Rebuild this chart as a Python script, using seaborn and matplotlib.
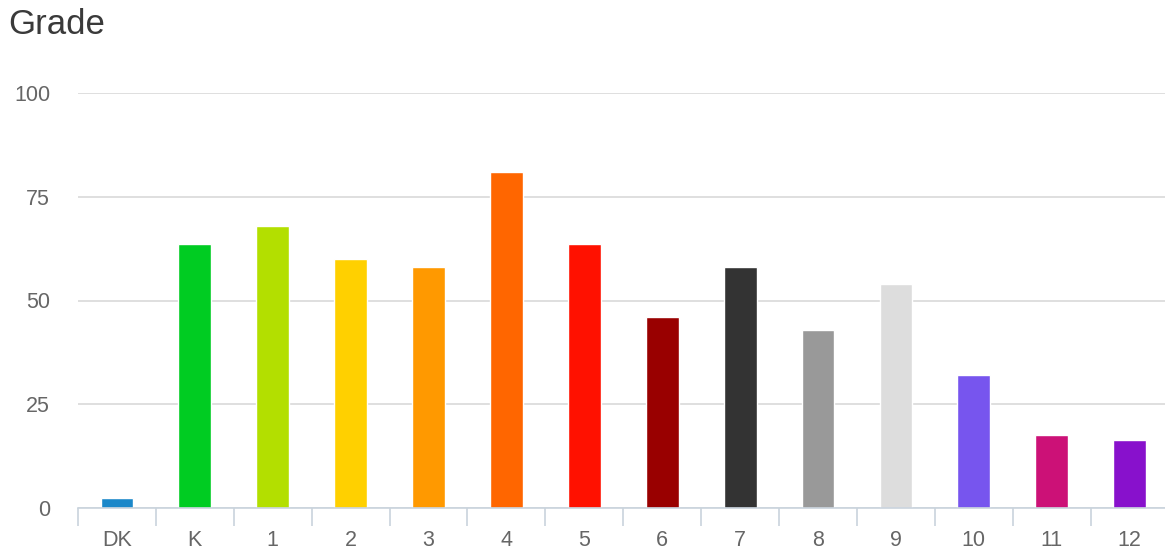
import matplotlib
matplotlib.use("Agg")
import matplotlib.pyplot as plt
import seaborn as sns
import pandas as pd
import numpy as np

categories = ["DK", "K", "1", "2", "3", "4", "5", "6", "7", "8", "9", "10", "11", "12"]
values = [2.5, 63.5, 68, 60, 58, 81, 63.5, 46, 58, 43, 54, 32, 17.5, 16.5]
colors = ["#1a87c9", "#00cc22", "#b3df00", "#ffd000", "#ff9900", "#ff6600", "#ff1100",
          "#990000", "#333333", "#999999", "#dddddd", "#7755ee", "#cc1177", "#8811cc"]
yticks = [0, 25, 50, 75, 100]

sns.set_theme(style="white")
plt.rcParams['font.family'] = ['Liberation Sans', 'DejaVu Sans']

W, H = 1165, 550
fig = plt.figure(figsize=(W / 100, H / 100), dpi=100)
left, right = 78, 1168.6
bottom, top = 508, 93
ax = fig.add_axes([left / W, (H - bottom) / H, (right - left) / W, (bottom - top) / H])

df = pd.DataFrame({"grade": categories, "value": values})
sns.barplot(data=df, x="grade", y="value", hue="grade", palette=colors,
            legend=False, width=0.42, ax=ax, saturation=1, order=categories)

ax.set_ylim(0, 100)
ax.set_xlim(-0.5, len(categories) - 0.5)
ax.set_yticks(yticks)
ax.set_yticklabels([str(t) for t in yticks])
ax.yaxis.grid(True, color="#d9d9d9", linewidth=1.2)
ax.set_axisbelow(True)
for s in ["top", "right", "left"]:
    ax.spines[s].set_visible(False)
ax.spines["bottom"].set_color("#c9d3dd")
ax.spines["bottom"].set_linewidth(1.2)
ax.spines["bottom"].set_zorder(5)

ax.set_xlabel("")
ax.set_ylabel("")
ax.tick_params(axis="y", length=0, pad=20, labelsize=15.5, labelcolor="#666666")
ax.tick_params(axis="x", which="major", length=0, pad=16, labelsize=15.5, labelcolor="#666666")
ax.set_xticks(np.arange(-0.5, len(categories)), minor=True)
ax.tick_params(axis="x", which="minor", bottom=True, length=13, width=1.2,
               color="#c9d3dd", direction="out")

fig.text(8 / W, 1 - 24 / H, "Grade", fontsize=25, color="#3a3a3a", va="center", ha="left")

fig.savefig("out.png", dpi=100, facecolor="white")
